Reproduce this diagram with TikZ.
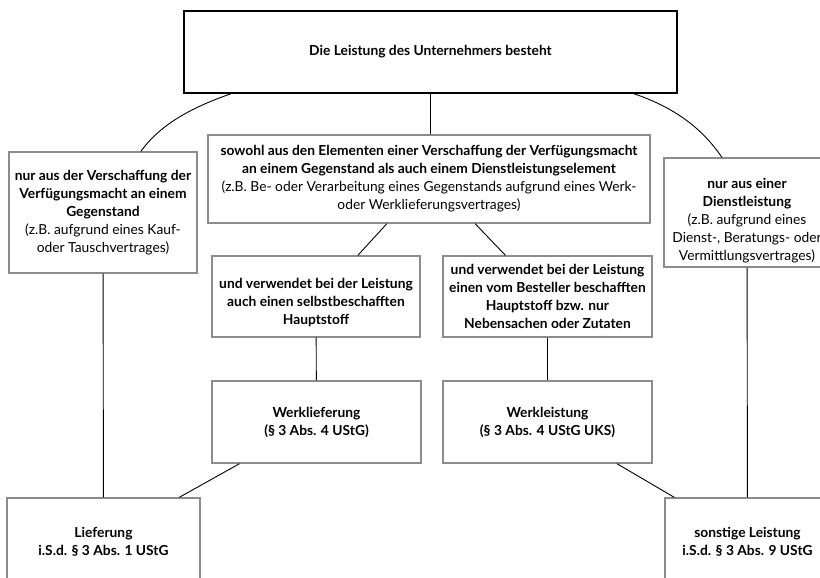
\documentclass[tikz,border=0pt]{standalone}
\usepackage{fontspec}
\setmainfont{Lato}
\usetikzlibrary{calc}

\begin{document}
\begin{tikzpicture}[x=1pt,y=-1pt,
  every node/.style={inner sep=0pt,align=center,font=\fontsize{13.8}{18}\selectfont},
  box/.style={draw=black!45,line width=1.3pt},
  conn/.style={line width=0.9pt}]
\useasboundingbox (0,0) rectangle (820,578);
\clip (0,0) rectangle (820,578);
% boxes
\node[draw,line width=1.2pt,minimum width=493,minimum height=82,font=\fontsize{13.8}{16}\selectfont\bfseries] (top) at (430.5,52) {Die Leistung des Unternehmers besteht};
\node[box,minimum width=188,minimum height=121] (nurlief) at (103,212.5) {\textbf{nur aus der Verschaffung der}\\\textbf{Verfügungsmacht an einem}\\\textbf{Gegenstand}\\(z.B. aufgrund eines Kauf-\\oder Tauschvertrages)};
\node[box,minimum width=442,minimum height=88] (beides) at (429,179) {\textbf{sowohl aus den Elementen einer Verschaffung der Verfügungsmacht}\\\textbf{an einem Gegenstand als auch einem Dienstleistungselement}\\(z.B. Be- oder Verarbeitung eines Gegenstands aufgrund eines Werk-\\oder Werklieferungsvertrages)};
\node[box,minimum width=166,minimum height=109] (nurdienst) at (747,212.5) {\rule{0pt}{27pt}\textbf{nur aus einer}\\\textbf{Dienstleistung}\\(z.B. aufgrund eines\\Dienst-, Beratungs- oder\\Vermittlungsvertrages)};
\node[box,minimum width=208,minimum height=81] (selbst) at (316,296.5) {\rule{0pt}{23pt}\textbf{und verwendet bei der Leistung}\\\textbf{auch einen selbstbeschafften}\\\textbf{Hauptstoff}};
\node[box,minimum width=209,minimum height=81] (besteller) at (547.5,296.5) {\textbf{und verwendet bei der Leistung}\\\textbf{einen vom Besteller beschafften}\\\textbf{Hauptstoff bzw. nur}\\\textbf{Nebensachen oder Zutaten}};
\node[box,minimum width=209,minimum height=82] (werklief) at (316.5,422) {\textbf{Werklieferung}\\\textbf{(§ 3 Abs. 4 UStG)}};
\node[box,minimum width=209,minimum height=82] (werkleist) at (547.5,422) {\textbf{Werkleistung}\\\textbf{(§ 3 Abs. 4 UStG UKS)}};
\node[box,minimum width=193,minimum height=87] (lief) at (103.5,541.5) {\textbf{Lieferung}\\\textbf{i.S.d. § 3 Abs. 1 UStG}};
\node[box,minimum width=165,minimum height=87] (sonst) at (747.5,541.5) {\textbf{sonstige Leistung}\\\textbf{i.S.d. § 3 Abs. 9 UStG}};
% connectors
\draw[conn] ($(top.south west)!0.097!(top.south east)$) .. controls (190,108) and (160,125) .. ($(nurlief.north west)!0.70!(nurlief.north east)$);
\draw[conn] ($(top.south west)!0.911!(top.south east)$) .. controls (670,106) and (700,125) .. ($(nurdienst.north west)!0.35!(nurdienst.north east)$);
\draw[conn] (top.south) -- (top.south |- beides.north);
\draw[conn] ($(beides.south west)!0.405!(beides.south east)$) -- ($(selbst.north west)!0.70!(selbst.north east)$);
\draw[conn] ($(beides.south west)!0.604!(beides.south east)$) -- ($(besteller.north west)!0.30!(besteller.north east)$);
\draw[conn] (selbst) -- (werklief);
\draw[conn] (besteller) -- (werkleist);
\draw[conn] (nurlief) -- (lief);
\draw[conn] (nurdienst) -- (sonst);
\draw[conn] ($(werklief.south west)!0.134!(werklief.south east)$) -- ($(lief.north west)!0.89!(lief.north east)$);
\draw[conn] ($(werkleist.south west)!0.83!(werkleist.south east)$) -- ($(sonst.north west)!0.06!(sonst.north east)$);
\end{tikzpicture}
\end{document}
